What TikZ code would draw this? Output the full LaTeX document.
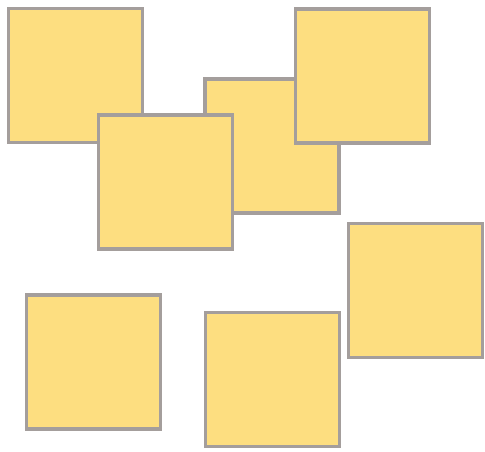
\documentclass[tikz,border=0pt]{standalone}
\usepackage{xcolor}
\usepackage{tikz}
\usetikzlibrary{positioning}
\definecolor{notefill}{RGB}{253,222,128}
\definecolor{noteedge}{RGB}{164,158,156}

\begin{document}
\begin{tikzpicture}[
    x=0.02cm, y=-0.02cm,
    notebox/.style={draw=noteedge, fill=notefill, line width=0.07cm, minimum size=2.68cm, inner sep=0pt},
]
\useasboundingbox (0,0) rectangle (485,452);

% === Upper group (back to front) ===
\node[notebox] (topleft) at (75.5,75.5) {};
\node[notebox] (middle) at (272,146) {};
\node[notebox] (centre) at (165.5,182) {};
\node[notebox] (topright) at (362.5,76) {};

% === Lower row ===
\node[notebox] (right) at (415.5,290.5) {};
\node[notebox] (bottomleft) at (93.5,362) {};
\node[notebox] (bottom) at (272.5,379.5) {};

\end{tikzpicture}
\end{document}
